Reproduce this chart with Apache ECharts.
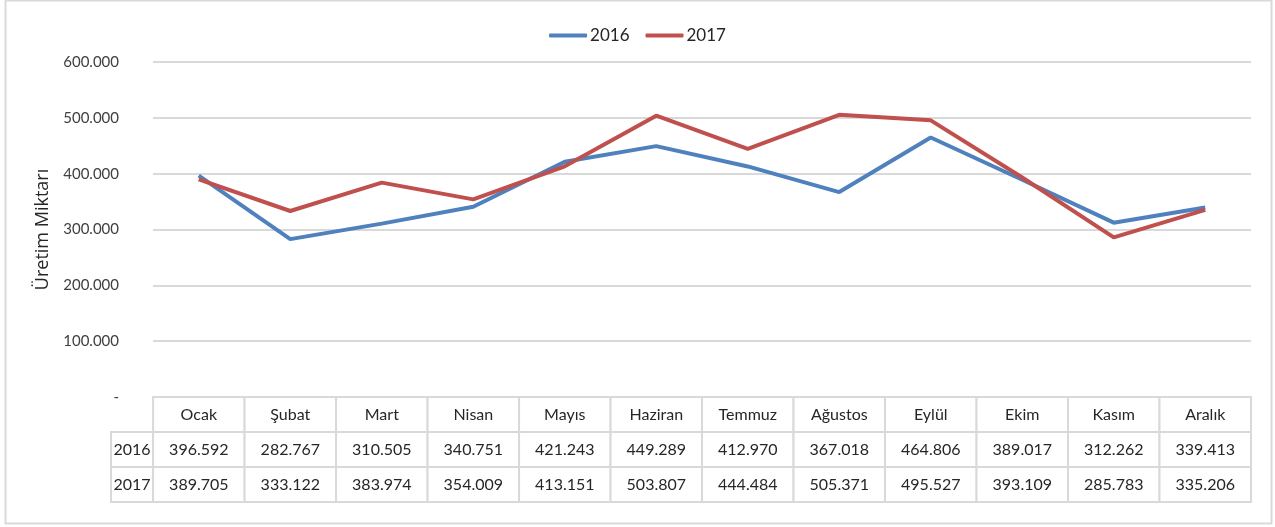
<!DOCTYPE html>
<html>
<head>
<meta charset="utf-8">
<script src="https://cdn.jsdelivr.net/npm/echarts@6/dist/echarts.min.js"></script>
<style>
  html, body { margin: 0; padding: 0; background: #fff; }
  #chart { width: 1275px; height: 527px; }
</style>
</head>
<body>
<div id="chart"></div>
<script>
var months = ['Ocak', 'Şubat', 'Mart', 'Nisan', 'Mayıs', 'Haziran', 'Temmuz', 'Ağustos', 'Eylül', 'Ekim', 'Kasım', 'Aralık'];
var years = ['2016', '2017'];
var data2016 = [396592, 282767, 310505, 340751, 421243, 449289, 412970, 367018, 464806, 389017, 312262, 339413];
var data2017 = [389705, 333122, 383974, 354009, 413151, 503807, 444484, 505371, 495527, 393109, 285783, 335206];
var colors = ['#4f81bd', '#c0504d'];
var font = 'Lato, "Open Sans", sans-serif';

// sayıları 396.592 gibi yaz
function fmt(v) {
    if (v === 0) return '-';
    return String(v).replace(/\B(?=(\d{3})+(?!\d))/g, '.');
}

// tablo hücreleri: [sütun, satır, metin]; sütun -1 = yıl sütunu
var cells = [];
months.forEach(function (m, i) { cells.push([i, 0, m]); });
[data2016, data2017].forEach(function (arr, r) {
    cells.push([-1, r + 1, years[r]]);
    arr.forEach(function (v, i) { cells.push([i, r + 1, fmt(v)]); });
});
var leftCol = -0.46;

var myChart = echarts.init(document.getElementById('chart'));
var option = {
    animation: false,
    color: colors,
    textStyle: { fontFamily: font },
    legend: {
        data: years,
        top: 22,
        left: 'center',
        itemWidth: 38,
        itemHeight: 4,
        itemGap: 16,
        icon: 'roundRect',
        textStyle: { fontSize: 17, color: '#262626', fontFamily: font, padding: [0, 0, 0, -2] }
    },
    graphic: [{
        type: 'rect',
        shape: { x: 5.5, y: 0.5, width: 1266, height: 523 },
        style: { fill: 'none', stroke: '#d9d9d9', lineWidth: 2 },
        silent: true
    }],
    grid: [
        { left: 153, right: 24, top: 62, bottom: 130 },
        { left: 111, right: 24, top: 397, bottom: 25 }
    ],
    xAxis: [
        {
            type: 'category',
            data: months,
            boundaryGap: true,
            gridIndex: 0,
            axisLine: { show: false },
            axisTick: { show: false },
            axisLabel: { show: false }
        },
        {
            type: 'value',
            gridIndex: 1,
            min: leftCol,
            max: 12,
            show: false
        }
    ],
    yAxis: [
        {
            type: 'value',
            gridIndex: 0,
            min: 0,
            max: 600000,
            interval: 100000,
            name: 'Üretim Miktarı',
            nameLocation: 'middle',
            nameGap: 100,
            nameTextStyle: { fontSize: 18, color: '#262626', fontFamily: '"Open Sans", sans-serif' },
            axisLine: { show: false },
            axisTick: { show: false },
            axisLabel: { formatter: fmt, fontSize: 15, color: '#404040', margin: 34 },
            splitLine: { lineStyle: { color: '#d9d9d9', width: 2 } }
        },
        {
            type: 'value',
            gridIndex: 1,
            min: 0,
            max: 3,
            inverse: true,
            show: false
        }
    ],
    series: [
        {
            name: '2016',
            type: 'line',
            data: data2016,
            symbol: 'none',
            lineStyle: { width: 4, color: colors[0] },
            z: 3
        },
        {
            name: '2017',
            type: 'line',
            data: data2017,
            symbol: 'none',
            lineStyle: { width: 4, color: colors[1] },
            z: 4
        },
        {
            type: 'custom',
            xAxisIndex: 1,
            yAxisIndex: 1,
            data: cells,
            silent: true,
            renderItem: function (params, api) {
                var cell = cells[params.dataIndex];
                var c = cell[0], r = cell[1];
                var x0 = c < 0 ? leftCol : c, x1 = c < 0 ? 0 : c + 1;
                var p0 = api.coord([x0, r]);
                var p1 = api.coord([x1, r + 1]);
                return {
                    type: 'group',
                    children: [
                        {
                            type: 'rect',
                            shape: { x: p0[0], y: p0[1], width: p1[0] - p0[0], height: p1[1] - p0[1] },
                            style: { fill: '#fff', stroke: '#d9d9d9', lineWidth: 2 }
                        },
                        {
                            type: 'text',
                            style: {
                                text: cell[2],
                                x: (p0[0] + p1[0]) / 2,
                                y: (p0[1] + p1[1]) / 2,
                                align: 'center',
                                verticalAlign: 'middle',
                                fill: '#262626',
                                font: '16px ' + font
                            }
                        }
                    ]
                };
            }
        }
    ]
};
myChart.setOption(option);
</script>
</body>
</html>
